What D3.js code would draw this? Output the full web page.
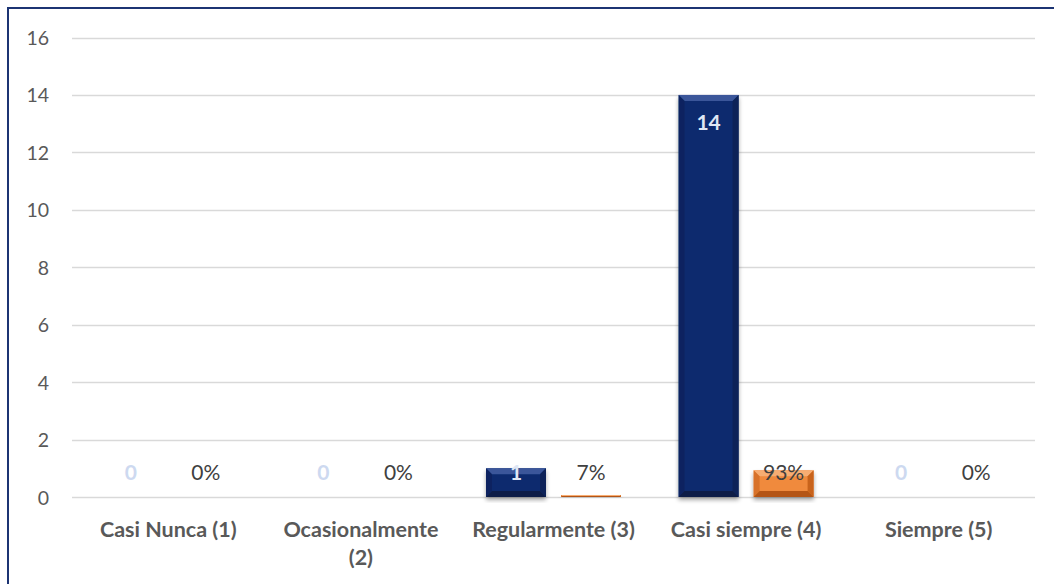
<!DOCTYPE html>
<html><head><meta charset="utf-8">
<script src="https://cdn.jsdelivr.net/npm/d3@7"></script>
<style>body{margin:0;background:#fff;} svg{display:block;font-family:Lato, "Open Sans", sans-serif;}</style>
</head><body>
<svg id="c" width="1054" height="584"></svg>
<script>
const categories = ["Casi Nunca (1)", "Ocasionalmente (2)", "Regularmente (3)", "Casi siempre (4)", "Siempre (5)"];
const categoryLines = [["Casi Nunca (1)"], ["Ocasionalmente", "(2)"], ["Regularmente (3)"], ["Casi siempre (4)"], ["Siempre (5)"]];
const counts = [0, 0, 1, 14, 0];
const percents = [0, 0, 0.07, 0.93, 0];
const yTicks = [0, 2, 4, 6, 8, 10, 12, 14, 16];

(function () {
const svg = d3.select("#c");
const W = 1054, H = 584;
const pLeft = 72, pRight = 1035, pTop = 37.5, pBottom = 497;

svg.append("rect").attr("x", 8).attr("y", 8).attr("width", W + 10).attr("height", H + 10)
  .attr("fill", "#fff").attr("stroke", "#1c3473").attr("stroke-width", 2);

const x0 = d3.scaleBand().domain(categories).range([pLeft, pRight]).paddingInner(0).paddingOuter(0);
const x1 = d3.scaleBand().domain(["count", "pct"]).range([28.8, x0.bandwidth() - 28.8]).paddingInner(0.2);
const y = d3.scaleLinear().domain([0, 16]).range([pBottom, pTop]);

svg.append("g").selectAll("line").data(yTicks).join("line")
  .attr("x1", pLeft).attr("x2", pRight)
  .attr("y1", d => Math.round(y(d)) + 0.5).attr("y2", d => Math.round(y(d)) + 0.5)
  .attr("stroke", "#d9d9d9").attr("stroke-width", 1.5);

const yAxis = d3.axisLeft(y).tickValues(yTicks).tickSize(0).tickPadding(0);
const ya = svg.append("g").attr("transform", `translate(49,0)`).call(yAxis);
ya.select(".domain").remove();
ya.selectAll("text").attr("font-size", 19.5).attr("fill", "#595959").attr("font-family", "Lato, sans-serif").attr("dy", "0.36em");

const defs = svg.append("defs");
const f = defs.append("filter").attr("id", "sh").attr("x", "-20%").attr("y", "-20%").attr("width", "140%").attr("height", "140%");
f.append("feGaussianBlur").attr("in", "SourceAlpha").attr("stdDeviation", 2);
f.append("feOffset").attr("dx", 0).attr("dy", 3).attr("result", "b");
f.append("feComponentTransfer").append("feFuncA").attr("type", "linear").attr("slope", 0.35);
const m = f.append("feMerge"); m.append("feMergeNode"); m.append("feMergeNode").attr("in", "SourceGraphic");

function bevelBar(g, x, w, yTop, yBot, base, light, dark, darker) {
  const h = yBot - yTop;
  if (h <= 0) return;
  const b = Math.min(6, h / 2, w / 2);
  const grp = g.append("g").attr("filter", "url(#sh)");
  grp.append("rect").attr("x", x).attr("y", yTop).attr("width", w).attr("height", h).attr("fill", base);
  grp.append("path").attr("d", `M${x},${yTop}L${x + w},${yTop}L${x + w - b},${yTop + b}L${x + b},${yTop + b}Z`).attr("fill", light);
  grp.append("path").attr("d", `M${x},${yTop}L${x + b},${yTop + b}L${x + b},${yBot - b}L${x},${yBot}Z`).attr("fill", dark).attr("opacity", 0.6);
  grp.append("path").attr("d", `M${x + w},${yTop}L${x + w - b},${yTop + b}L${x + w - b},${yBot - b}L${x + w},${yBot}Z`).attr("fill", dark);
  grp.append("path").attr("d", `M${x},${yBot}L${x + b},${yBot - b}L${x + w - b},${yBot - b}L${x + w},${yBot}Z`).attr("fill", darker);
}

const bars = svg.append("g");
categories.forEach((c, i) => {
  const cx = x0(c);
  bevelBar(bars, cx + x1("count"), x1.bandwidth(), y(counts[i]), y(0), "#0d2a6e", "#3a569a", "#0a2258", "#071a46");
  bevelBar(bars, cx + x1("pct"), x1.bandwidth(), y(percents[i]), y(0), "#f08a3c", "#f7ad72", "#c8631c", "#b45512");
});

const lab = svg.append("g");
categories.forEach((c, i) => {
  const cx = x0(c);
  const countX = cx + x1("count") + x1.bandwidth() / 2;
  const pctX = cx + x1("pct") + x1.bandwidth() / 2;
  const cy = Math.min(y(counts[i]) + 27.5, y(0) - 25);
  lab.append("text").attr("x", countX).attr("y", cy).attr("dy", "0.36em")
    .attr("text-anchor", "middle").attr("font-size", 21).attr("font-weight", "bold")
    .attr("fill", counts[i] === 0 ? "#cdd9f0" : "#dfe7f5").text(counts[i]);
  lab.append("text").attr("x", pctX).attr("y", y(0) - 25).attr("dy", "0.36em")
    .attr("text-anchor", "middle").attr("font-size", 21)
    .attr("fill", "#404040").text(d3.format(".0%")(percents[i]));
});

const cat = svg.append("g");
categories.forEach((c, i) => {
  const t = cat.append("text").attr("x", x0(c) + x0.bandwidth() / 2).attr("y", 536.5)
    .attr("text-anchor", "middle").attr("font-size", 21.5).attr("font-weight", "bold").attr("fill", "#595959");
  categoryLines[i].forEach((line, j) => {
    t.append("tspan").attr("x", x0(c) + x0.bandwidth() / 2).attr("dy", j === 0 ? 0 : 28).text(line);
  });
});
})();
</script>
</body></html>
